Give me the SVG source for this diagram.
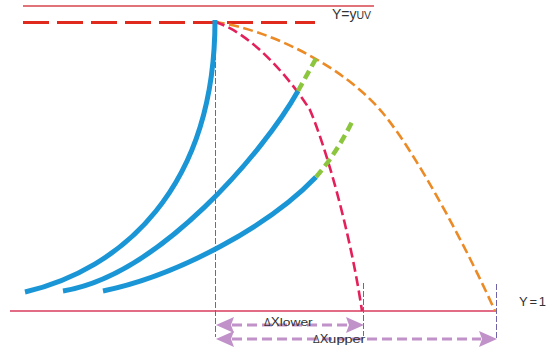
<svg xmlns="http://www.w3.org/2000/svg" width="546" height="347" viewBox="0 0 546 347">
  <style>
    .lbl { font-family: "Liberation Sans", Arial, sans-serif; fill: #333; }
    .blue { fill: none; stroke: #1a96d6; stroke-width: 5; stroke-linecap: butt; }
    .green { fill: none; stroke: #8cc63f; stroke-width: 4.5; stroke-dasharray: 9 5; }
    .vdash { fill: none; stroke: #6e64a8; stroke-width: 1; stroke-dasharray: 6 2; }
    .arr { fill: none; stroke: #c191c9; stroke-width: 3; stroke-dasharray: 10 5; }
    .head { fill: #c191c9; }
  </style>
  <rect width="546" height="347" fill="#ffffff"/>

  <g id="reference-lines">
    <line x1="23" y1="6" x2="374" y2="6" stroke="#d8434e" stroke-width="1.4"/>
    <line x1="23" y1="22.5" x2="315" y2="22.5" stroke="#e02a1e" stroke-width="3" stroke-dasharray="26 8"/>
    <line x1="10" y1="311" x2="496" y2="311" stroke="#d83a5e" stroke-width="1.3"/>
  </g>

  <g id="guides">
    <line class="vdash" x1="215.5" y1="22" x2="215.5" y2="337"/>
    <line class="vdash" x1="363.5" y1="283" x2="363.5" y2="336"/>
    <line class="vdash" x1="496.5" y1="284" x2="496.5" y2="338"/>
  </g>

  <g id="bound-curves">
    <path id="upper-bound" d="M215,22 C272,30 345,68 382,112 C418,155 470,255 495,311" fill="none" stroke="#ec8a25" stroke-width="2.6" stroke-dasharray="10 4.5"/>
    <path id="lower-bound" d="M215,22 C250,32 290,78 310,110 C325,145 350,230 362,311" fill="none" stroke="#e4205a" stroke-width="2.6" stroke-dasharray="10 4.5"/>
  </g>

  <g id="curve-1">
    <path class="blue" d="M25,292 C120,270 215,190 215,20"/>
  </g>
  <g id="curve-2">
    <path class="blue" d="M63,291 C160,275 265,150 298,91"/>
    <path class="green" d="M298,91 Q308,73 318,55"/>
  </g>
  <g id="curve-3">
    <path class="blue" d="M103,291 C180,275 270,225 316,177"/>
    <path class="green" d="M316,177 Q336,154 352,122"/>
  </g>

  <g id="connectors">
    <line class="arr" x1="232" y1="325" x2="349" y2="325"/>
    <polygon class="head" points="216,325 234,317 231,325 234,333"/>
    <polygon class="head" points="364,325 346,317 349,325 346,333"/>
    <line class="arr" x1="232" y1="339" x2="481" y2="339"/>
    <polygon class="head" points="216,339 234,331 231,339 234,347"/>
    <polygon class="head" points="497,339 479,331 482,339 479,347"/>
  </g>

  <g id="labels">
    <text class="lbl" x="332" y="18.5" font-size="14">Y=y<tspan font-size="10.5">UV</tspan></text>
    <text class="lbl" x="519" y="306" font-size="13" textLength="27" lengthAdjust="spacing">Y=1</text>
    <text class="lbl" x="264" y="325.5"><tspan font-size="10">Δ</tspan><tspan font-size="13.5">X</tspan><tspan font-size="11" textLength="33" lengthAdjust="spacingAndGlyphs">lower</tspan></text>
    <text class="lbl" x="313" y="343"><tspan font-size="10">Δ</tspan><tspan font-size="13">X</tspan><tspan font-size="11" textLength="37" lengthAdjust="spacingAndGlyphs">upper</tspan></text>
  </g>
</svg>
